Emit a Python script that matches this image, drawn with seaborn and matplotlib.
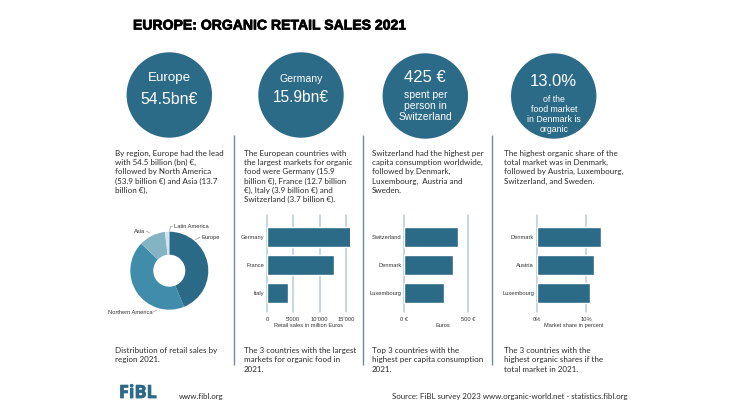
import matplotlib
matplotlib.use("Agg")
import matplotlib.pyplot as plt
import matplotlib.patheffects as pe
from matplotlib.patches import Circle
from matplotlib.ticker import FixedLocator, FixedFormatter
import pandas as pd
import seaborn as sns

W, H = 746, 419
DARK = "#2b6b87"
GRID = "#b4cdd6"
TXT = "#2a2a2a"
BODY = "Lato"
SANS = "Liberation Sans"

title = "EUROPE: ORGANIC RETAIL SALES 2021"

regions = ["Europe", "Northern America", "Asia", "Latin America"]
region_sales = [54.5, 53.9, 13.7, 2.2]
region_colors = ["#2a6a86", "#3f8cab", "#84b3c4", "#d3e2ee"]

market_countries = ["Germany", "France", "Italy"]
market_values = [15900, 12700, 3900]
market_ticks = [0, 5000, 10000, 15000]
market_ticklabels = ["0", "5'000", "10'000", "15'000"]

capita_countries = ["Switzerland", "Denmark", "Luxembourg"]
capita_values = [425, 385, 315]
capita_ticks = [0, 500]
capita_ticklabels = ["0 €", "500 €"]

share_countries = ["Denmark", "Austria", "Luxembourg"]
share_values = [13.0, 11.6, 10.9]
share_ticks = [0, 10]
share_ticklabels = ["0%", "10%"]

top_text = [
    ["By region, Europe had the lead", "with 54.5 billion (bn) €,",
     "followed by North America", "(53.9 billion €) and Asia (13.7", "billion €),"],
    ["The European countries with", "the largest markets for organic", "food were Germany (15.9",
     "billion €), France (12.7 billion", "€), Italy (3.9 billion €) and", "Switzerland (3.7 billion €)."],
    ["Switzerland had the highest per", "capita consumption worldwide,", "followed by Denmark,",
     "Luxembourg,  Austria and", "Sweden."],
    ["The highest organic share of the", "total market was in Denmark,", "followed by Austria, Luxembourg,",
     "Switzerland, and Sweden."],
]
bottom_text = [
    ["Distribution of retail sales by", "region 2021."],
    ["The 3 countries with the largest", "markets for organic food in", "2021."],
    ["Top 3 countries with the", "highest per capita consumption", "2021."],
    ["The 3 countries with the", "highest organic shares if the", "total market in 2021."],
]

sns.set_theme(style="white")
plt.rcParams["font.family"] = [SANS, "DejaVu Sans"]

fig = plt.figure(figsize=(W / 100, H / 100), dpi=100, facecolor="white")


def px_axes(left, top, right, bottom, **kw):
    return fig.add_axes([left / W, 1 - bottom / H, (right - left) / W, (bottom - top) / H], **kw)


bg = px_axes(0, 0, W, H)
bg.set_xlim(0, W)
bg.set_ylim(H, 0)
bg.axis("off")

bg.text(133, 25.5, title, fontsize=10.1, fontweight="bold", color="black", va="center", ha="left",
        path_effects=[pe.withStroke(linewidth=0.5, foreground="black")])

# circles
for cx, cy in [(169.3, 95), (301, 95), (425.3, 96), (553.7, 96)]:
    bg.add_patch(Circle((cx, cy), 42.7, facecolor=DARK, edgecolor="none"))

circle_text = [
    (169.3, 77.7, "Europe", 9.6), (169.3, 99, "54.5bn€", 11.4),
    (301, 79, "Germany", 7.6), (301, 97, "15.9bn€", 11.2),
    (425.3, 78, "425 €", 12), (425.3, 94.7, "spent per", 7.5),
    (425.3, 106, "person in", 7.5), (425.3, 117, "Switzerland", 7.5),
    (553.7, 81.7, "13.0%", 12), (553.7, 99.7, "of the", 6.3), (553.7, 109, "food market", 6.3),
    (553.7, 119, "in Denmark is", 6.3), (553.7, 129, "organic", 6.3),
]
for x, y, s, fs in circle_text:
    bg.text(x, y, s, fontsize=fs, color="white", ha="center", va="center")

# separators
for x in [233.7, 363.3, 491.7]:
    bg.plot([x, x], [135, 365], color="#6f8b9b", lw=1.0, solid_capstyle="butt")

# body text
for x, lines in zip([115, 243.5, 371.5, 504], top_text):
    for i, line in enumerate(lines):
        bg.text(x, 153 + i * 9.35, line, fontsize=5.8, family=BODY, color=TXT, va="center", ha="left")
for x, lines in zip([115, 243.5, 371.5, 504], bottom_text):
    for i, line in enumerate(lines):
        bg.text(x, 350.5 + i * 9.35, line, fontsize=5.8, family=BODY, color=TXT, va="center", ha="left")

# footer
bg.text(119, 393, "FiBL", fontsize=13, fontweight="bold", family="Open Sans", color=DARK, va="center", ha="left",
        path_effects=[pe.withStroke(linewidth=0.6, foreground=DARK)])
bg.text(179, 396.5, "www.fibl.org", fontsize=5.7, family=BODY, color=TXT, va="center", ha="left")
bg.text(628, 396.5, "Source: FiBL survey 2023 www.organic-world.net - statistics.fibl.org", fontsize=5.65,
        family=BODY, color=TXT, va="center", ha="right")

# donut
ax0 = px_axes(169.3 - 39, 270.7 - 39, 169.3 + 39, 270.7 + 39)
ax0.pie(region_sales, colors=region_colors, startangle=90, counterclock=False, radius=1,
        wedgeprops=dict(width=1 - 16 / 39, linewidth=0))
ax0.set_xlim(-1, 1)
ax0.set_ylim(-1, 1)

donut_labels = [
    (202, 237, regions[0], [(200, 237), (195, 240)]),
    (108, 312, regions[1], [(153, 312), (157, 310)]),
    (134, 231, regions[2], [(146, 231), (150, 233)]),
    (174, 226.5, regions[3], [(172.5, 226.5), (170.5, 226.5), (169.5, 231)]),
]
for x, y, s, pts in donut_labels:
    bg.text(x, y, s, fontsize=4.15, color="#333333", ha="left", va="center")
    bg.plot([p[0] for p in pts], [p[1] for p in pts], color="#9a9a9a", lw=0.5)


def bars(rect, cats, vals, ticks, labels, xmax, xlabel):
    ax = px_axes(*rect)
    df = pd.DataFrame({"name": cats, "value": vals})
    sns.barplot(data=df, x="value", y="name", color=DARK, saturation=1, width=0.73, ax=ax, zorder=3)
    ax.set_xlim(0, xmax)
    ax.set_ylim(2.68, -0.786)
    ax.xaxis.set_major_locator(FixedLocator(ticks))
    ax.xaxis.set_major_formatter(FixedFormatter(labels))
    ax.xaxis.grid(True, color=GRID, lw=1.1, zorder=0)
    ax.yaxis.grid(False)
    for g in ax.get_xgridlines():
        g.set_clip_on(False)
    ax.set_axisbelow(True)
    ax.tick_params(axis="x", length=0, pad=3.5, labelsize=4.15, labelcolor="#333333")
    ax.tick_params(axis="y", length=0, pad=2, labelsize=4.15, labelcolor="#333333")
    ax.set_ylabel("")
    ax.set_xlabel(xlabel, fontsize=4.1, color="#333333", labelpad=0.8)
    for s in ax.spines.values():
        s.set_visible(False)
    ax.patch.set_alpha(0)
    return ax


bars((267, 215, 350.4, 312), market_countries, market_values, market_ticks, market_ticklabels,
     83.4 / 79 * 15000, "Retail sales in million Euros")
bars((404.3, 215, 481, 312), capita_countries, capita_values, capita_ticks, capita_ticklabels,
     76.7 / 63.7 * 500, "Euros")
bars((537, 215, 610.4, 312), share_countries, share_values, share_ticks, share_ticklabels,
     73.4 / 4.9, "Market share in percent")

fig.savefig("out.png", dpi=100)
